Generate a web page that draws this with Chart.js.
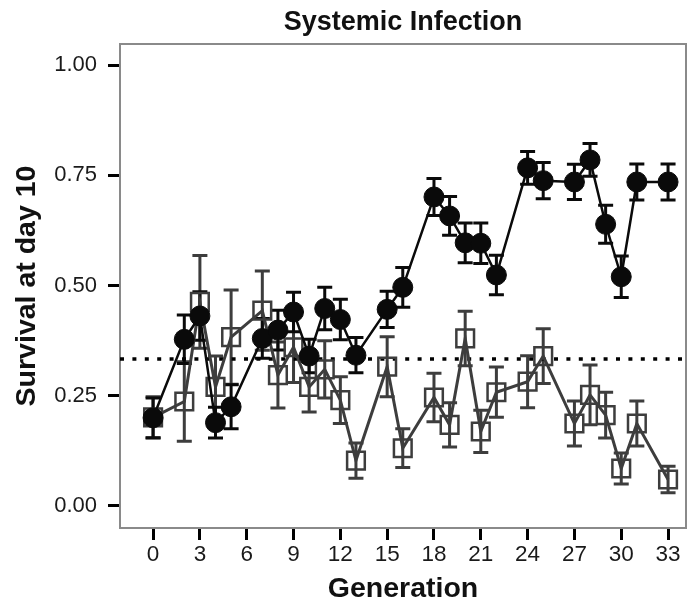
<!DOCTYPE html>
<html>
<head>
<meta charset="utf-8">
<script src="https://cdn.jsdelivr.net/npm/chart.js@4.4.0/dist/chart.umd.min.js"></script>
<style>
    html, body { margin: 0; padding: 0; background: #fff; overflow: hidden; }
    #wrap { width: 689px; height: 603px; position: relative; }
    #wrap canvas { display: block; }
</style>
</head>
<body>
<div id="wrap"><canvas id="chartSurvival"></canvas></div>
<script>
// -----------------------------------------------------------------------------
// 1. DATA
// -----------------------------------------------------------------------------

const generations = [0, 2, 3, 4, 5, 7, 8, 9, 10, 11, 12, 13, 15, 16, 18, 19, 20, 21, 22, 24, 25, 27, 28, 29, 30, 31, 33];

// filled circles
const selectedMean = [0.200, 0.378, 0.431, 0.189, 0.225, 0.380, 0.399, 0.440, 0.340, 0.448, 0.423, 0.342, 0.446, 0.496,
    0.701, 0.658, 0.597, 0.596, 0.524, 0.767, 0.738, 0.735, 0.785, 0.639, 0.520, 0.735, 0.735];
const selectedErr = [0.045, 0.055, 0.055, 0.035, 0.050, 0.045, 0.045, 0.045, 0.038, 0.048, 0.046, 0.040, 0.041, 0.045,
    0.042, 0.044, 0.045, 0.046, 0.045, 0.037, 0.041, 0.040, 0.037, 0.043, 0.047, 0.041, 0.041];

// open squares
const controlMean = [0.201, 0.237, 0.463, 0.270, 0.383, 0.443, 0.297, 0.360, 0.270, 0.310, 0.240, 0.103, 0.316, 0.131,
    0.246, 0.184, 0.380, 0.169, 0.258, 0.282, 0.340, 0.187, 0.252, 0.206, 0.085, 0.187, 0.060];
const controlErr = [0.047, 0.090, 0.105, 0.070, 0.107, 0.090, 0.075, 0.080, 0.057, 0.065, 0.053, 0.040, 0.068, 0.044,
    0.055, 0.050, 0.062, 0.048, 0.057, 0.059, 0.062, 0.051, 0.068, 0.052, 0.035, 0.051, 0.030];

const referenceLevel = 1 / 3;

const xTicks = [0, 3, 6, 9, 12, 15, 18, 21, 24, 27, 30, 33];
const yTicks = [0, 0.25, 0.5, 0.75, 1];

const X_MIN = -2.12, X_MAX = 34.15;
const Y_MIN = -0.05, Y_MAX = 1.048;

const FONT = 'Liberation Sans, Arial, sans-serif';
const TITLE = 'Systemic Infection';

// -----------------------------------------------------------------------------
// 2. PLUGINS (frame, title over plot area, error bars)
// -----------------------------------------------------------------------------

const framePlugin = {
    id: 'frame',
    beforeDatasetsDraw(chart) {
        const { ctx, chartArea: a } = chart;
        ctx.save();
        ctx.strokeStyle = '#8a8a8a';
        ctx.lineWidth = 2;
        ctx.strokeRect(a.left, a.top, a.right - a.left, a.bottom - a.top);
        ctx.restore();
    },
    afterDraw(chart) {
        const { ctx, chartArea: a } = chart;
        ctx.save();
        ctx.fillStyle = '#111';
        ctx.font = 'bold 27px ' + FONT;
        ctx.textAlign = 'center';
        ctx.textBaseline = 'middle';
        ctx.fillText(TITLE, (a.left + a.right) / 2, 23);
        ctx.restore();
    }
};

function drawErrorBars(chart, means, errs, color) {
    const { ctx } = chart;
    const xs = chart.scales.x, ys = chart.scales.y;
    const cap = 7.5;
    ctx.save();
    ctx.strokeStyle = color;
    ctx.lineWidth = 3;
    generations.forEach((g, i) => {
        const px = xs.getPixelForValue(g);
        const top = ys.getPixelForValue(means[i] + errs[i]);
        const bot = ys.getPixelForValue(means[i] - errs[i]);
        ctx.beginPath();
        ctx.moveTo(px, top); ctx.lineTo(px, bot);
        ctx.moveTo(px - cap, top); ctx.lineTo(px + cap, top);
        ctx.moveTo(px - cap, bot); ctx.lineTo(px + cap, bot);
        ctx.stroke();
    });
    ctx.restore();
}

const errorBarPlugin = {
    id: 'errorBars',
    beforeDatasetsDraw(chart) {
        drawErrorBars(chart, controlMean, controlErr, '#3d3d3d');
        drawErrorBars(chart, selectedMean, selectedErr, '#0a0a0a');
    }
};

// -----------------------------------------------------------------------------
// 3. CHART
// -----------------------------------------------------------------------------

const toPoints = (vals) => generations.map((g, i) => ({ x: g, y: vals[i] }));

new Chart(document.getElementById('chartSurvival'), {
    type: 'line',
    data: {
        datasets: [
            {
                data: toPoints(selectedMean),
                borderColor: '#0a0a0a',
                borderWidth: 2.5,
                pointStyle: 'circle',
                pointRadius: 10,
                pointBackgroundColor: '#0a0a0a',
                pointBorderColor: '#0a0a0a',
                pointBorderWidth: 1,
                tension: 0
            },
            {
                data: toPoints(controlMean),
                borderColor: '#3d3d3d',
                borderWidth: 3,
                pointStyle: 'rect',
                pointRadius: 12.5,
                pointBackgroundColor: 'rgba(0,0,0,0)',
                pointBorderColor: '#3d3d3d',
                pointBorderWidth: 2.5,
                tension: 0
            },
            {
                data: [{ x: X_MIN, y: referenceLevel }, { x: X_MAX, y: referenceLevel }],
                borderColor: '#000',
                borderWidth: 3.5,
                borderDash: [4, 8.4],
                pointRadius: 0
            }
        ]
    },
    options: {
        responsive: true,
        maintainAspectRatio: false,
        animation: false,
        events: [],
        layout: { autoPadding: false, padding: { left: 0, right: 3, top: 44, bottom: 0 } },
        plugins: {
            legend: { display: false },
            tooltip: { enabled: false },
            title: { display: false }
        },
        scales: {
            x: {
                type: 'linear',
                min: X_MIN,
                max: X_MAX,
                afterBuildTicks: (s) => { s.ticks = xTicks.map(v => ({ value: v })); },
                afterFit: (s) => { s.height = 75; s.paddingLeft = 0; s.paddingRight = 0; },
                grid: { drawOnChartArea: false, drawTicks: true, tickLength: 12, tickWidth: 3, tickColor: '#000' },
                border: { display: false },
                ticks: {
                    color: '#1a1a1a',
                    padding: 1,
                    maxRotation: 0,
                    font: { family: FONT, size: 22.5 }
                },
                title: {
                    display: true,
                    text: 'Generation',
                    color: '#111',
                    font: { family: FONT, size: 28.5, weight: 'bold', lineHeight: 1.0 },
                    padding: { top: 0, bottom: 0 }
                }
            },
            y: {
                type: 'linear',
                min: Y_MIN,
                max: Y_MAX,
                afterBuildTicks: (s) => { s.ticks = yTicks.map(v => ({ value: v })); },
                afterFit: (s) => { s.width = 120; s.paddingTop = 0; s.paddingBottom = 0; },
                grid: { drawOnChartArea: false, drawTicks: true, tickLength: 12, tickWidth: 3, tickColor: '#000' },
                border: { display: false },
                ticks: {
                    color: '#1a1a1a',
                    padding: 11,
                    callback: (v) => Number(v).toFixed(2),
                    font: { family: FONT, size: 22 }
                },
                title: {
                    display: true,
                    text: 'Survival at day 10',
                    color: '#111',
                    font: { family: FONT, size: 28.5, weight: 'bold' },
                    padding: { top: 10, bottom: 0 }
                }
            }
        }
    },
    plugins: [framePlugin, errorBarPlugin]
});
</script>
</body>
</html>
